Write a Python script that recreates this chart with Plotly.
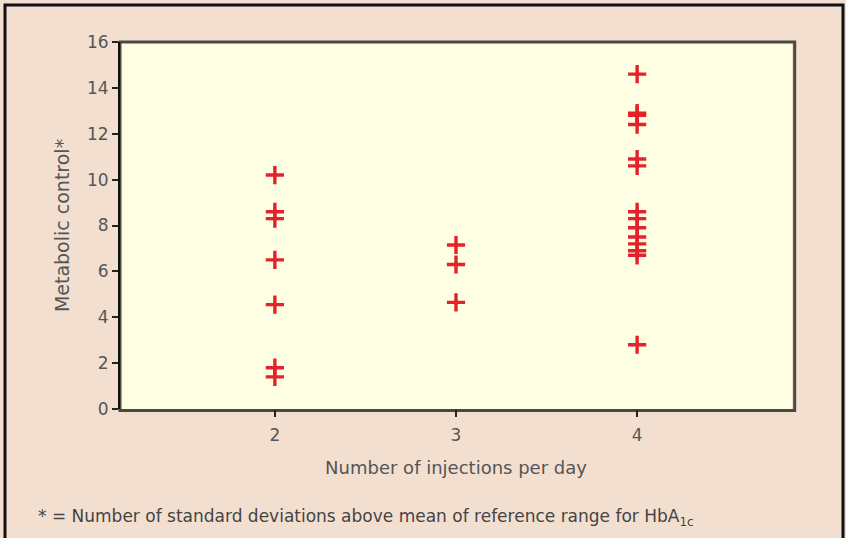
import plotly.graph_objects as go

# Data
inj_2 = [10.2, 8.6, 8.3, 6.5, 4.55, 1.8, 1.4]
inj_3 = [7.15, 6.3, 4.65]
inj_4 = [14.6, 12.9, 12.8, 12.4, 10.9, 10.6, 8.6, 8.3, 7.9, 7.5, 7.2, 6.9, 6.7, 2.8]

x_ticks = [2, 3, 4]
y_ticks = [0, 2, 4, 6, 8, 10, 12, 14, 16]

xs = [2] * len(inj_2) + [3] * len(inj_3) + [4] * len(inj_4)
ys = inj_2 + inj_3 + inj_4

W, H = 846, 538
L, R, T, B = 120, 54, 42, 129
pw, ph = W - L - R, H - T - B


def px_x(p):
    return (p - L) / pw


def px_y(p):
    return (H - B - p) / ph


fig = go.Figure()
fig.add_trace(go.Scatter(
    x=xs, y=ys, mode="markers",
    marker=dict(symbol="cross-thin", size=13,
                line=dict(color="#e3222b", width=3.4)),
    showlegend=False, hoverinfo="x+y",
))

font_col = "#555555"
fam = "DejaVu Sans, Liberation Sans, Arial, sans-serif"
fig.update_layout(
    width=W, height=H,
    margin=dict(l=L, r=R, t=T, b=B),
    paper_bgcolor="#f3dfd0",
    plot_bgcolor="#fefee2",
    font=dict(family=fam, color=font_col, size=17),
    xaxis=dict(
        range=[1.145, 4.855], tickvals=x_ticks, ticks="outside", ticklen=7,
        tickcolor="#222", tickwidth=2, showgrid=False, zeroline=False,
        showline=False, tickfont=dict(size=17, color=font_col),
        ticklabelstandoff=4,
        title=dict(text="Number of injections per day", standoff=16,
                   font=dict(size=18, color=font_col)),
    ),
    yaxis=dict(
        range=[0, 16], tickvals=y_ticks, ticks="outside", ticklen=6,
        tickcolor="#222", tickwidth=2, showgrid=False, zeroline=False,
        showline=True, linecolor="#111", linewidth=2,
        tickfont=dict(size=17, color=font_col),
        title=dict(text="Metabolic control*", standoff=12,
                   font=dict(size=19, color=font_col)),
    ),
    shapes=[
        # plot frame (shadowed look)
        dict(type="rect", xref="paper", yref="paper", x0=0, x1=1.004, y0=-0.004, y1=1,
             line=dict(color="#4a4840", width=3), layer="below"),
        # outer black frame of the picture
        dict(type="rect", xref="paper", yref="paper",
             x0=px_x(5), x1=px_x(843), y0=px_y(545), y1=px_y(5),
             line=dict(color="#111111", width=3)),
    ],
    annotations=[
        dict(text="* = Number of standard deviations above mean of reference range for HbA<sub>1c</sub>",
             xref="paper", yref="paper", x=px_x(36), y=px_y(517),
             xanchor="left", yanchor="middle", showarrow=False,
             font=dict(size=17, color="#444444")),
    ],
)

fig.write_html("out.html", config={"displayModeBar": False},
               post_script="document.body.style.margin='0';")
